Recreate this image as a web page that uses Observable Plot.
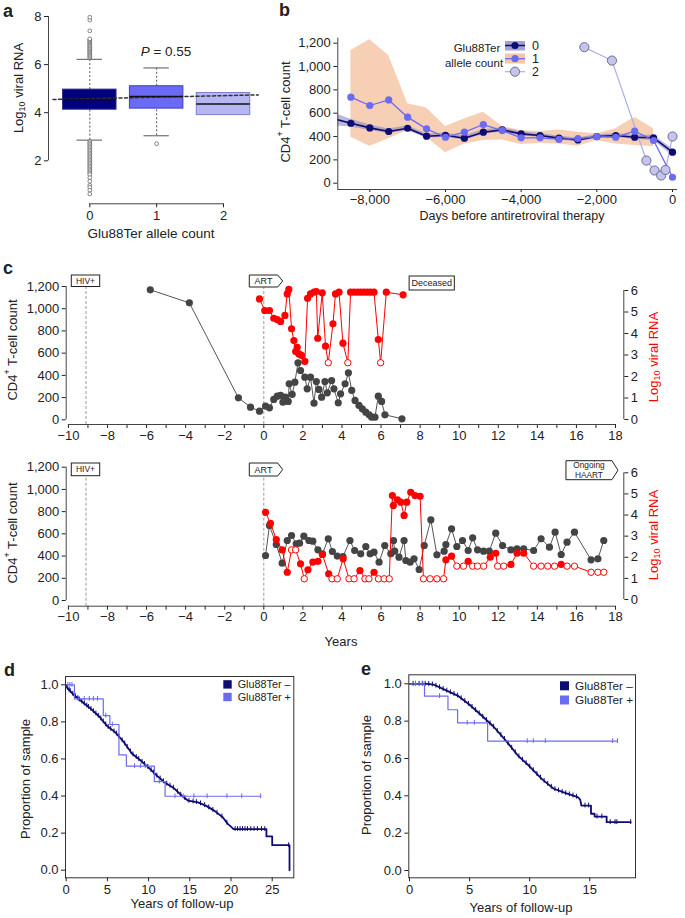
<!DOCTYPE html>
<html><head><meta charset="utf-8">
<script src="https://cdn.jsdelivr.net/npm/d3@7"></script>
<script src="https://cdn.jsdelivr.net/npm/@observablehq/plot@0.6"></script>
<style>
body{margin:0;background:#fff;}
#fig{position:relative;width:685px;height:918px;overflow:hidden;font-family:"Liberation Sans",Arial,Helvetica,sans-serif;color:#222;background:#fff;}
</style></head><body><div id="fig"></div>
<script>
// ---------------- DATA ----------------
// Panel a: Log10 viral RNA by Glu88Ter allele count
const aGroups = [0, 1, 2];
const aQ1 = [4.125, 4.17, 3.90];
const aMedian = [4.55, 4.67, 4.36];
const aQ3 = [4.96, 5.10, 4.82];
const aWhiskerLo = [2.86, 3.04, null];
const aWhiskerHi = [6.22, 5.86, null];
const aOutliersHi0 = [6.28,6.33,6.38,6.43,6.48,6.52,6.57,6.62,6.66,6.71,6.76,6.8,6.85,6.9,6.94,6.98,7.03,7.07,7.4,7.85,7.97];
const aOutliersLo0 = [2.8,2.74,2.68,2.62,2.56,2.5,2.44,2.38,2.32,2.26,2.2,2.14,2.08,2.02,1.96,1.9,1.84,1.78,1.72,1.66,1.6,1.54,1.48,1.42,1.3,1.15,0.98,0.9,0.78,0.62];
const aOutliers1 = [2.71];
const aTrend = [[-0.55, 4.55], [2.52, 4.74]];
const aPValue = "0.55";

// Panel b: CD4 count before ART
const bDays = [-8500,-8000,-7500,-7000,-6500,-6000,-5500,-5000,-4500,-4000,-3500,-3000,-2500,-2000,-1500,-1000,-500,0];
const bCount0 = [514,474,443,471,403,411,386,437,457,423,409,386,371,400,409,394,389,266];
const bCount1 = [737,666,714,566,466,394,437,503,451,389,389,375,383,400,394,446,366,51];
const bLead0 = {d: -9000, v: 556};
const bBand0Days = [-9000,-8500,-8000,-7500,-7000,-6500,-6000,-5500,-5000,-4500,-4000,-3500,-3000,-2500,-2000,-1500,-1000,-500,0];
const bBand0Lo = [495,482,452,425,452,386,393,370,418,440,405,393,370,356,385,392,376,366,236];
const bBand0Hi = [605,548,498,465,492,422,430,404,458,476,441,426,402,388,415,426,412,410,296];
const bBand1Days = [-8500,-8000,-7500,-7000,-6500,-6000,-5500,-5000,-4500,-4000,-3500,-3000,-2500,-2000,-1500,-1000,-500];
const bBand1Lo = [394,317,380,451,394,260,337,366,371,331,343,337,317,366,337,323,314];
const bBand1Hi = [1137,1229,1094,680,645,486,551,609,486,451,443,457,437,423,466,566,466];
const bDays2 = [-2330,-1600,-690,-475,-300,-185,0];
const bCount2 = [1166,1051,194,109,66,114,400];

// Panel c (top): patient who died
const cTopYears = [-5.81,-3.81,-1.3,-0.68,-0.22,0.09,0.29,0.51,0.69,0.86,0.98,1.11,1.25,1.3,1.45,1.59,1.75,1.88,2.1,2.22,2.39,2.57,2.69,2.82,2.96,3.13,3.25,3.47,3.59,3.81,3.93,4.16,4.33,4.5,4.67,4.87,5.04,5.22,5.39,5.52,5.69,5.86,6.03,6.2,7.07];
const cTopCD4 = [1170,1053,198,114,78,123,108,183,213,219,159,204,165,324,228,339,513,444,384,279,384,150,345,273,204,345,243,354,279,153,234,324,423,264,174,129,99,69,45,24,24,213,165,45,9];
const cTopRnaYears = [-0.22,0.05,0.29,0.51,0.69,0.86,1.08,1.2,1.28,1.42,1.54,1.63,1.71,1.8,1.93,2.1,2.24,2.39,2.57,2.69,2.76,2.99,3.16,3.3,3.54,3.67,3.85,4.05,4.3,4.44,4.61,4.79,4.96,5.13,5.3,5.47,5.64,5.86,5.98,6.27,7.13];
const cTopRna = [5.61,5.07,5.07,4.71,4.65,4.56,4.84,5.84,6.05,4.22,3.67,3.16,3.36,3.05,2.98,2.7,5.64,5.84,5.92,5.95,3.78,5.89,3.41,2.64,4.45,5.84,5.92,3.55,2.64,5.92,5.92,5.92,5.92,5.92,5.92,5.92,5.92,3.72,2.64,5.92,5.8];
const cTopRnaUndetected = [3.3, 4.3, 5.98];

// Panel c (bottom): patient on ongoing HAART
const cBotYears = [0.09,0.29,0.64,0.94,1.2,1.42,1.66,1.83,2.05,2.31,2.51,2.77,3.0,3.3,3.51,3.76,4.05,4.41,4.65,4.96,5.22,5.44,5.64,5.9,6.19,6.5,6.64,6.7,6.92,7.18,7.27,7.49,7.69,7.95,8.21,8.55,8.86,9.23,9.32,9.61,9.88,10.17,10.46,10.69,10.94,11.25,11.54,11.87,12.22,12.65,12.96,13.3,13.81,14.19,14.62,14.91,15.22,15.52,15.9,16.75,17.1,17.4];
const cBotCD4 = [405,675,504,336,540,585,510,516,579,540,534,456,420,555,441,400,395,540,450,420,486,420,435,345,495,420,540,444,390,540,360,345,375,279,495,726,411,444,504,645,486,540,450,564,456,444,444,606,495,456,465,465,450,555,480,615,414,525,615,366,375,540];
const cBotRnaYears = [0.09,0.34,0.64,0.94,1.2,1.42,1.63,1.88,2.07,2.26,2.51,2.77,3.0,3.32,3.49,3.76,4.06,4.36,4.62,4.92,5.18,5.38,5.64,5.87,6.16,6.42,6.58,6.63,6.84,7.01,7.18,7.32,7.52,7.74,8.0,8.17,8.51,8.86,9.2,9.32,9.61,9.88,10.22,10.46,10.69,10.94,11.25,11.59,11.87,11.97,12.28,12.65,12.96,13.3,13.81,14.19,14.53,14.88,15.22,15.52,15.9,16.75,17.1,17.4];
const cBotRna = [4.13,3.61,2.84,2.35,1.29,2.35,2.35,1.69,0.98,1.41,1.77,1.81,2.13,1.22,0.98,0.98,1.93,0.98,0.98,1.37,0.98,0.98,1.29,0.98,0.98,0.98,4.92,4.45,4.72,4.61,3.98,4.61,5.08,4.92,4.89,0.98,0.98,0.98,0.98,1.88,2.05,1.58,1.58,1.81,1.58,1.58,1.58,2.0,2.19,1.58,1.58,1.66,2.19,2.19,1.58,1.58,1.58,1.58,1.66,1.58,1.58,1.29,1.29,1.29];
const cBotRnaUndetected = [1.42,1.63,2.07,3.49,3.76,4.36,4.62,5.18,5.38,5.87,6.16,6.42,8.17,8.51,8.86,9.2,9.88,10.22,10.69,10.94,11.25,11.97,12.28,13.81,14.19,14.53,14.88,15.52,15.9,16.75,17.1,17.4];
const cEventsTop = [{label:"HIV+", year:-9.1}, {label:"ART", year:0}];
const cEventsBot = [{label:"HIV+", year:-9.1}, {label:"ART", year:0}];
const cDeceasedYear = 8.62, cOngoingYear = 15.49;

// Panel d: Kaplan-Meier
const dNeg = [[0,1.0],[0.1,0.985],[1,0.942],[2,0.906],[3,0.87],[4,0.829],[5,0.776],[6,0.742],[7,0.69],[8,0.628],[9,0.593],[10,0.553],[11,0.51],[12,0.472],[13,0.445],[14,0.403],[14.8,0.375],[16,0.366],[17,0.347],[18,0.32],[19,0.286],[19.6,0.25],[20,0.235],[20.3,0.222],[24.3,0.222],[24.3,0.182],[25.0,0.182],[25.0,0.135],[27.1,0.135],[27.1,0.0]];
const dPos = [[0,1.0],[1.0,0.924],[4.5,0.834],[5.3,0.786],[6.4,0.622],[7.3,0.561],[10.7,0.478],[12.0,0.399],[23.6,0.399]];
const dNegCensor = [0.15,0.35,0.5,0.8,1.1,1.4,1.6,1.9,2.2,2.5,2.7,3.0,3.3,3.6,3.9,4.2,4.5,4.8,5.1,5.4,5.8,6.1,6.4,6.8,7.1,7.4,7.8,8.1,8.5,8.8,9.2,9.5,9.9,10.3,10.6,11.0,11.4,11.8,12.2,12.6,13.0,13.5,13.9,14.4,14.9,15.4,15.8,16.3,16.8,17.3,17.8,18.3,18.9,19.5,20.5,20.8,21.1,21.4,21.7,22.0,22.4,22.8,23.2,23.7,24.1,27.0];
const dPosCensor = [0.2,0.45,0.7,1.5,2.2,2.8,3.3,3.8,4.8,5.6,8.3,9.0,9.6,11.3,13.2,14.2,15.5,17.1,19.5,21.3,23.6];

// Panel e: Kaplan-Meier
const eNeg = [[0,1.0],[1.5,1.0],[2,0.996],[3,0.966],[4,0.937],[5,0.888],[6,0.83],[7,0.77],[8,0.697],[9,0.617],[10,0.557],[11,0.491],[11.5,0.464],[12,0.438],[13,0.414],[14,0.393],[14.2,0.38],[14.3,0.348],[15.1,0.348],[15.1,0.304],[15.4,0.304],[15.4,0.289],[16.4,0.289],[16.4,0.259],[18.4,0.259]];
const ePos = [[0,1.0],[1.25,0.934],[3.2,0.861],[4.0,0.791],[6.5,0.693],[17.3,0.693]];
const eNegCensor = [0.3,0.5,0.8,1.1,1.3,1.6,1.9,2.2,2.5,2.8,3.1,3.4,3.7,4.0,4.3,4.6,4.9,5.2,5.5,5.8,6.1,6.4,6.7,7.0,7.3,7.6,7.9,8.2,8.5,8.8,9.1,9.4,9.7,10.0,10.3,10.6,10.9,11.2,11.5,11.8,12.1,12.4,12.7,13.0,13.3,13.6,13.9,14.6,14.9,15.6,16.0,16.7,17.1,17.25,18.4];
const ePosCensor = [0.5,1.05,2.5,4.8,5.4,9.8,10.3,11.3,16.9,17.3];
const kmLegend = ["Glu88Ter \u2013", "Glu88Ter +"];

// ---------------- STYLE / LAYOUT ----------------
const NAVY = "#0c0c72", BLUE = "#6b6bf2", RED = "#ff0000", GREY = "#444";
const aFill = ["#00007e", "#6a6af4", "#b6b6f3"];
const aStroke = ["#303088", "#4040b8", "#7d7dcc"];
const FONT = '"Liberation Sans", Arial, Helvetica, sans-serif';
const fig = document.getElementById("fig");
const baseStyle = {fontFamily: FONT, fontSize: "13px", color: "#222", background: "transparent", overflow: "visible"};
function dom(v1, p1, v2, p2, e1, e2) { const k = (v2 - v1) / (p2 - p1); return [v1 + (e1 - p1) * k, v1 + (e2 - p1) * k]; }
function put(el, left, top) { el.style.position = "absolute"; el.style.left = left + "px"; el.style.top = top + "px"; fig.appendChild(el); return el; }
const fmtC = d3.format(",");
const fmtI = d3.format("d");

// ---------------- PANEL A ----------------
const aData = aGroups.map((g, i) => ({g, q1: aQ1[i], med: aMedian[i], q3: aQ3[i], lo: aWhiskerLo[i], hi: aWhiskerHi[i]}));
const aWh = aData.filter(d => d.hi != null);
const aOut = [...aOutliersHi0.map(v => ({g: 0, v})), ...aOutliersLo0.map(v => ({g: 0, v})), ...aOutliers1.map(v => ({g: 1, v}))];
const ax = dom(0, 89.3, 2, 223, 48, 262), ay = dom(2, 160.3, 8, 16, 203.3, 10);
put(Plot.plot({
  width: 262, height: 245, marginLeft: 48, marginRight: 0, marginTop: 10, marginBottom: 41.7,
  style: baseStyle, x: {domain: ax}, y: {domain: ay}, color: {type: "identity"},
  marks: [
    Plot.ruleX(aWh, {x: "g", y1: "q3", y2: "hi", stroke: "#555", strokeDasharray: "2,2"}),
    Plot.ruleX(aWh, {x: "g", y1: "lo", y2: "q1", stroke: "#555", strokeDasharray: "2,2"}),
    Plot.ruleY(aWh, {y: "hi", x1: d => d.g - 0.19, x2: d => d.g + 0.19, stroke: "#555"}),
    Plot.ruleY(aWh, {y: "lo", x1: d => d.g - 0.19, x2: d => d.g + 0.19, stroke: "#555"}),
    Plot.dot(aOut, {x: "g", y: "v", r: 1.9, stroke: "#555", strokeWidth: 0.7, fill: "white"}),
    Plot.rect(aData, {x1: d => d.g - 0.4, x2: d => d.g + 0.4, y1: "q1", y2: "q3", fill: d => aFill[d.g], stroke: d => aStroke[d.g]}),
    Plot.line(aTrend, {x: d => d[0], y: d => d[1], stroke: "#333", strokeDasharray: "3,2.5"}),
    Plot.ruleY(aData, {y: "med", x1: d => d.g - 0.4, x2: d => d.g + 0.4, stroke: "#111", strokeWidth: 1.5}),
    Plot.axisY({ticks: [2, 4, 6, 8], tickFormat: fmtI, tickSize: 4, tickPadding: 3, label: null}),
    Plot.ruleX([ax[0]], {y1: 2, y2: 8, stroke: "#444"}),
    Plot.axisX({ticks: aGroups, tickFormat: fmtI, tickSize: 4, tickPadding: 3, label: null}),
    Plot.ruleY([ay[0]], {x1: 0, x2: 2, stroke: "#444"})
  ]
}), 0, 0);

// ---------------- PANEL B ----------------
const s0 = bDays.map((d, i) => ({d, v: bCount0[i]}));
const s0line = [bLead0, ...s0];
const s1 = bDays.map((d, i) => ({d, v: bCount1[i]}));
const s2 = bDays2.map((d, i) => ({d, v: bCount2[i]}));
const band0 = bBand0Days.map((d, i) => ({d, lo: bBand0Lo[i], hi: bBand0Hi[i]}));
const band1 = bBand1Days.map((d, i) => ({d, lo: bBand1Lo[i], hi: bBand1Hi[i]}));
const bx = dom(-8000, 369.3, 0, 672, 337.3, 677), by = dom(0, 182.7, 1200, 42.7, 189, 37.7);
put(Plot.plot({
  width: 423, height: 240, marginLeft: 75.3, marginRight: 8, marginTop: 37.7, marginBottom: 51,
  style: baseStyle, x: {domain: bx}, y: {domain: by},
  marks: [
    Plot.areaY(band1, {x: "d", y1: "lo", y2: "hi", fill: "#f3bc98", fillOpacity: 0.72}),
    Plot.areaY(band0, {x: "d", y1: "lo", y2: "hi", fill: "#7f7fc2", fillOpacity: 0.55, clip: true}),
    Plot.line(s2, {x: "d", y: "v", stroke: "#aaaee2", strokeWidth: 1.2}),
    Plot.line(s0line, {x: "d", y: "v", stroke: NAVY, strokeWidth: 1.6, clip: true}),
    Plot.line(s1, {x: "d", y: "v", stroke: BLUE, strokeWidth: 1.3}),
    Plot.dot(s0, {x: "d", y: "v", r: 3.6, fill: NAVY}),
    Plot.dot(s1, {x: "d", y: "v", r: 3.6, fill: BLUE}),
    Plot.dot(s2, {x: "d", y: "v", r: 4.6, fill: "#c4c4ec", stroke: "#55557a", strokeWidth: 0.8}),
    Plot.axisY({ticks: [0, 200, 400, 600, 800, 1000, 1200], tickFormat: fmtC, tickSize: 4, tickPadding: 3, label: null}),
    Plot.axisX({ticks: [-8000, -6000, -4000, -2000, 0], tickFormat: fmtC, tickSize: 3, tickPadding: 2, label: null}),
    Plot.ruleX([bx[0]], {y1: by[0], y2: by[1], stroke: "#444"}),
    Plot.ruleY([by[0]], {x1: bx[0], x2: bx[1], stroke: "#444"})
  ]
}), 262, 0);

// ---------------- PANEL C ----------------
const cx = dom(0, 263.3, 18, 615, 65.7, 623.3);
const cTicks = d3.range(-10, 19, 2), cMinor = d3.range(-9, 18, 2);
function cPanel(top, mT, mB, yG, yR, grey, red, events, eventTopValue) {
  const pG = Plot.plot({
    width: 685, height: 190, marginLeft: 65.7, marginRight: 61.7, marginTop: mT, marginBottom: mB,
    style: baseStyle, x: {domain: cx}, y: {domain: yG},
    marks: [
      Plot.ruleX(events, {x: "year", y1: yG[0], y2: eventTopValue, stroke: "#999", strokeDasharray: "3,2"}),
      Plot.line(grey, {x: "x", y: "y", stroke: "#555", strokeWidth: 1}),
      Plot.dot(grey, {x: "x", y: "y", r: 3.6, fill: GREY}),
      Plot.axisY({ticks: [0, 200, 400, 600, 800, 1000, 1200], tickFormat: fmtC, tickSize: 4, tickPadding: 3, label: null}),
      Plot.ruleX([cx[0]], {y1: 0, y2: 1200, stroke: "#444"}),
      Plot.axisX({ticks: cTicks, tickFormat: fmtI, tickSize: 4, tickPadding: 2, label: null}),
      Plot.axisX({ticks: cMinor, tickSize: 4, tickFormat: () => "", label: null}),
      Plot.ruleY([yG[0]], {x1: -10, x2: 18, stroke: "#444"})
    ]
  });
  put(pG, 0, top);
  const pR = Plot.plot({
    width: 685, height: 190, marginLeft: 65.7, marginRight: 61.7, marginTop: mT, marginBottom: mB,
    style: baseStyle, x: {domain: cx, axis: null}, y: {domain: yR},
    marks: [
      Plot.line(red, {x: "x", y: "y", stroke: RED, strokeWidth: 1}),
      Plot.dot(red.filter(d => d.det), {x: "x", y: "y", r: 3.6, fill: RED}),
      Plot.dot(red.filter(d => !d.det), {x: "x", y: "y", r: 3.2, fill: "white", stroke: RED, strokeWidth: 1}),
      Plot.axisY({anchor: "right", ticks: [0, 1, 2, 3, 4, 5, 6], tickFormat: fmtI, tickSize: 4, tickPadding: 3, label: null}),
      Plot.ruleX([cx[1]], {y1: 0, y2: 6, stroke: "#444"})
    ]
  });
  put(pR, 0, top);
  return pG;
}
const greyTop = cTopYears.map((x, i) => ({x, y: cTopCD4[i]}));
const redTop = cTopRnaYears.map((x, i) => ({x, y: cTopRna[i], det: !cTopRnaUndetected.includes(x)}));
const greyBot = cBotYears.map((x, i) => ({x, y: cBotCD4[i]}));
const redBot = cBotRnaYears.map((x, i) => ({x, y: cBotRna[i], det: !cBotRnaUndetected.includes(x)}));
const pcTop = cPanel(262, 10, 28, dom(0, 419.3, 1200, 286, 424, 272), dom(0, 419, 6, 290, 424, 272), greyTop, redTop, cEventsTop, 1191);
const pcBot = cPanel(452, 6, 36.3, dom(0, 600, 1200, 466.7, 605.7, 458), dom(0, 599, 6, 472.3, 605.7, 458), greyBot, redBot, cEventsBot, 1116);

// ---------------- PANELS D, E ----------------
function onPolyline(pts, t) {
  for (let i = 0; i < pts.length - 1; i++) {
    const [t0, s0_] = pts[i], [t1, s1_] = pts[i + 1];
    if (t >= t0 && t <= t1) return t1 === t0 ? s0_ : s0_ + (s1_ - s0_) * (t - t0) / (t1 - t0);
  }
  return pts[pts.length - 1][1];
}
function onSteps(pts, t) { let s = pts[0][1]; for (const [ti, si] of pts) if (ti <= t) s = si; return s; }
function kmPanel(left, w, mL, mR, mT, xd, yd, neg, pos, negC, posC, xticks) {
  const nc = negC.map(t => ({t, s: onPolyline(neg, t)}));
  const pc = posC.map(t => ({t, s: onSteps(pos, t)}));
  return put(Plot.plot({
    width: w, height: 263, marginLeft: mL, marginRight: mR, marginTop: mT, marginBottom: 40.7,
    style: baseStyle, x: {domain: xd}, y: {domain: yd},
    marks: [
      Plot.line(neg, {x: d => d[0], y: d => d[1], stroke: NAVY, strokeWidth: 1.8}),
      Plot.ruleX(nc, {x: "t", y1: d => d.s - 0.013, y2: d => d.s + 0.013, stroke: NAVY, strokeWidth: 1}),
      Plot.line(pos, {x: d => d[0], y: d => d[1], curve: "step-after", stroke: BLUE, strokeWidth: 1.2}),
      Plot.ruleX(pc, {x: "t", y1: d => d.s - 0.013, y2: d => d.s + 0.013, stroke: BLUE, strokeWidth: 1}),
      Plot.frame({stroke: "#333"}),
      Plot.axisX({ticks: xticks, tickFormat: fmtI, tickSize: 4, tickPadding: 3, label: null}),
      Plot.axisY({ticks: [0, 0.2, 0.4, 0.6, 0.8, 1.0], tickFormat: d3.format(".1f"), tickSize: 4, tickPadding: 3, label: null})
    ]
  }), left, 655);
}
kmPanel(0, 340, 65, 46.7, 21, dom(0, 65.7, 25, 271.7, 65, 293.3), dom(0, 869.7, 1, 684.3, 877.3, 676), dNeg, dPos, dNegCensor, dPosCensor, [0, 5, 10, 15, 20, 25]);
kmPanel(340, 345, 68.3, 50, 19.3, dom(0, 409, 15, 589.3, 408.3, 635), dom(0, 870, 1, 683.3, 877.3, 674.3), eNeg, ePos, eNegCensor, ePosCensor, [0, 5, 10, 15]);

// ---------------- OVERLAY TEXT / LEGENDS / ANNOTATIONS ----------------
const ov = d3.select(fig).append("svg").attr("width", 685).attr("height", 918)
  .style("position", "absolute").style("left", "0px").style("top", "0px").style("pointer-events", "none")
  .attr("font-family", FONT);
function txt(x, y, str, o = {}) {
  const t = ov.append("text").attr("x", x).attr("y", y).attr("font-size", o.size || 13)
    .attr("text-anchor", o.anchor || "middle").attr("fill", o.fill || "#222");
  if (o.base !== "alpha") t.attr("dominant-baseline", "central");
  if (o.weight) t.attr("font-weight", o.weight);
  if (o.rot) t.attr("transform", `rotate(-90 ${x} ${y})`);
  if (str) t.text(str);
  return t;
}
function log10Title(x, y, fill) {
  const t = txt(x, y, null, {rot: true, fill});
  t.append("tspan").text("Log");
  t.append("tspan").attr("font-size", 9).attr("dy", 3.5).text("10");
  t.append("tspan").attr("dy", -3.5).text(" viral RNA");
}
function cd4Title(x, y) {
  const t = txt(x, y, null, {rot: true});
  t.append("tspan").text("CD4");
  t.append("tspan").attr("font-size", 9).attr("dy", -5).text("+");
  t.append("tspan").attr("dy", 5).text(" T-cell count");
}
// panel letters
txt(3, 17, "a", {size: 18, weight: "bold", anchor: "start", base: "alpha"});
txt(279, 16, "b", {size: 18, weight: "bold", anchor: "start", base: "alpha"});
txt(3, 274, "c", {size: 18, weight: "bold", anchor: "start", base: "alpha"});
txt(4, 676, "d", {size: 18, weight: "bold", anchor: "start", base: "alpha"});
txt(361, 675, "e", {size: 18, weight: "bold", anchor: "start", base: "alpha"});
// a
txt(151, 233, "Glu88Ter allele count", {size: 13.5});
log10Title(18, 88);
{ const t = txt(166, 51, null, {size: 13.5}); t.append("tspan").attr("font-style", "italic").text("P"); t.append("tspan").text(" = " + aPValue); }
// b
cd4Title(285, 112);
txt(512, 216, "Days before antiretroviral therapy", {size: 12.5});
txt(477, 48, "Glu88Ter", {size: 11.5});
txt(474, 63, "allele count", {size: 11.5});
ov.append("rect").attr("x", 505).attr("y", 41).attr("width", 20).attr("height", 9.5).attr("fill", "#a2a2d4");
ov.append("rect").attr("x", 505).attr("y", 53.5).attr("width", 20).attr("height", 10).attr("fill", "#f5c7a8");
ov.append("line").attr("x1", 505).attr("x2", 525).attr("y1", 45.5).attr("y2", 45.5).attr("stroke", NAVY).attr("stroke-width", 1.5);
ov.append("line").attr("x1", 505).attr("x2", 525).attr("y1", 58.7).attr("y2", 58.7).attr("stroke", BLUE).attr("stroke-width", 1.3);
ov.append("line").attr("x1", 505).attr("x2", 525).attr("y1", 71.7).attr("y2", 71.7).attr("stroke", "#aaaee2").attr("stroke-width", 1.2);
ov.append("circle").attr("cx", 515).attr("cy", 45.5).attr("r", 3.6).attr("fill", NAVY);
ov.append("circle").attr("cx", 515).attr("cy", 58.7).attr("r", 3.6).attr("fill", BLUE);
ov.append("circle").attr("cx", 515).attr("cy", 71.7).attr("r", 4.6).attr("fill", "#c4c4ec").attr("stroke", "#55557a").attr("stroke-width", 0.8);
["0", "1", "2"].forEach((s, i) => txt(532, [45.5, 59, 72][i], s, {size: 12.5, anchor: "start"}));
// c
cd4Title(12, 350); cd4Title(12, 533);
log10Title(653, 357, RED); log10Title(653, 535, RED);
txt(341, 641, "Years", {size: 13});
const xs = v => pcTop.scale("x").apply(v);
function boxLabel(x0, x1, y0, y1, lines, size, arrow) {
  const g = ov.append("g");
  const body = x1 - (arrow || 0);
  if (arrow) g.append("polygon").attr("points", `${x0},${y0} ${body},${y0} ${x1},${(y0 + y1) / 2} ${body},${y1} ${x0},${y1}`)
    .attr("fill", "white").attr("stroke", "#222").attr("stroke-width", 1);
  else g.append("rect").attr("x", x0).attr("y", y0).attr("width", x1 - x0).attr("height", y1 - y0).attr("fill", "white").attr("stroke", "#222").attr("stroke-width", 1);
  const cxm = (x0 + body) / 2, n = lines.length, h = (y1 - y0) / n;
  lines.forEach((s, i) => txt(cxm, y0 + h * (i + 0.5), s, {size}));
}
// top
boxLabel(xs(cEventsTop[0].year) - 14.2, xs(cEventsTop[0].year) + 14.2, 275, 286.5, [cEventsTop[0].label], 8.5);
boxLabel(xs(cEventsTop[1].year) - 14, xs(cEventsTop[1].year) + 19.4, 275, 287, [cEventsTop[1].label], 9, 5);
boxLabel(xs(cDeceasedYear) - 22.6, xs(cDeceasedYear) + 22.6, 276, 290, ["Deceased"], 9);
// bottom
boxLabel(xs(cEventsBot[0].year) - 14.2, xs(cEventsBot[0].year) + 14.2, 463, 475.7, [cEventsBot[0].label], 8.5);
boxLabel(xs(cEventsBot[1].year) - 14, xs(cEventsBot[1].year) + 19.4, 463, 476, [cEventsBot[1].label], 9, 5);
boxLabel(xs(cOngoingYear), xs(cOngoingYear) + 52, 460.7, 479.7, ["Ongoing", "HAART"], 8.3, 6);
// d, e
txt(25, 779, "Proportion of sample", {size: 13, rot: true});
txt(182, 903, "Years of follow-up", {size: 13});
txt(366, 775, "Proportion of sample", {size: 13, rot: true});
txt(521, 907, "Years of follow-up", {size: 13});
function kmLeg(x, y1, y2, sq, size) {
  ov.append("rect").attr("x", x).attr("y", y1 - sq / 2).attr("width", sq).attr("height", sq).attr("fill", NAVY);
  ov.append("rect").attr("x", x).attr("y", y2 - sq / 2).attr("width", sq).attr("height", sq).attr("fill", BLUE);
  txt(x + sq + 6, y1, kmLegend[0], {size, anchor: "start"});
  txt(x + sq + 6, y2, kmLegend[1], {size, anchor: "start"});
}
kmLeg(223.3, 684.4, 697, 8.4, 10.8);
kmLeg(560, 685.8, 700, 9, 11.8);
</script></body></html>
